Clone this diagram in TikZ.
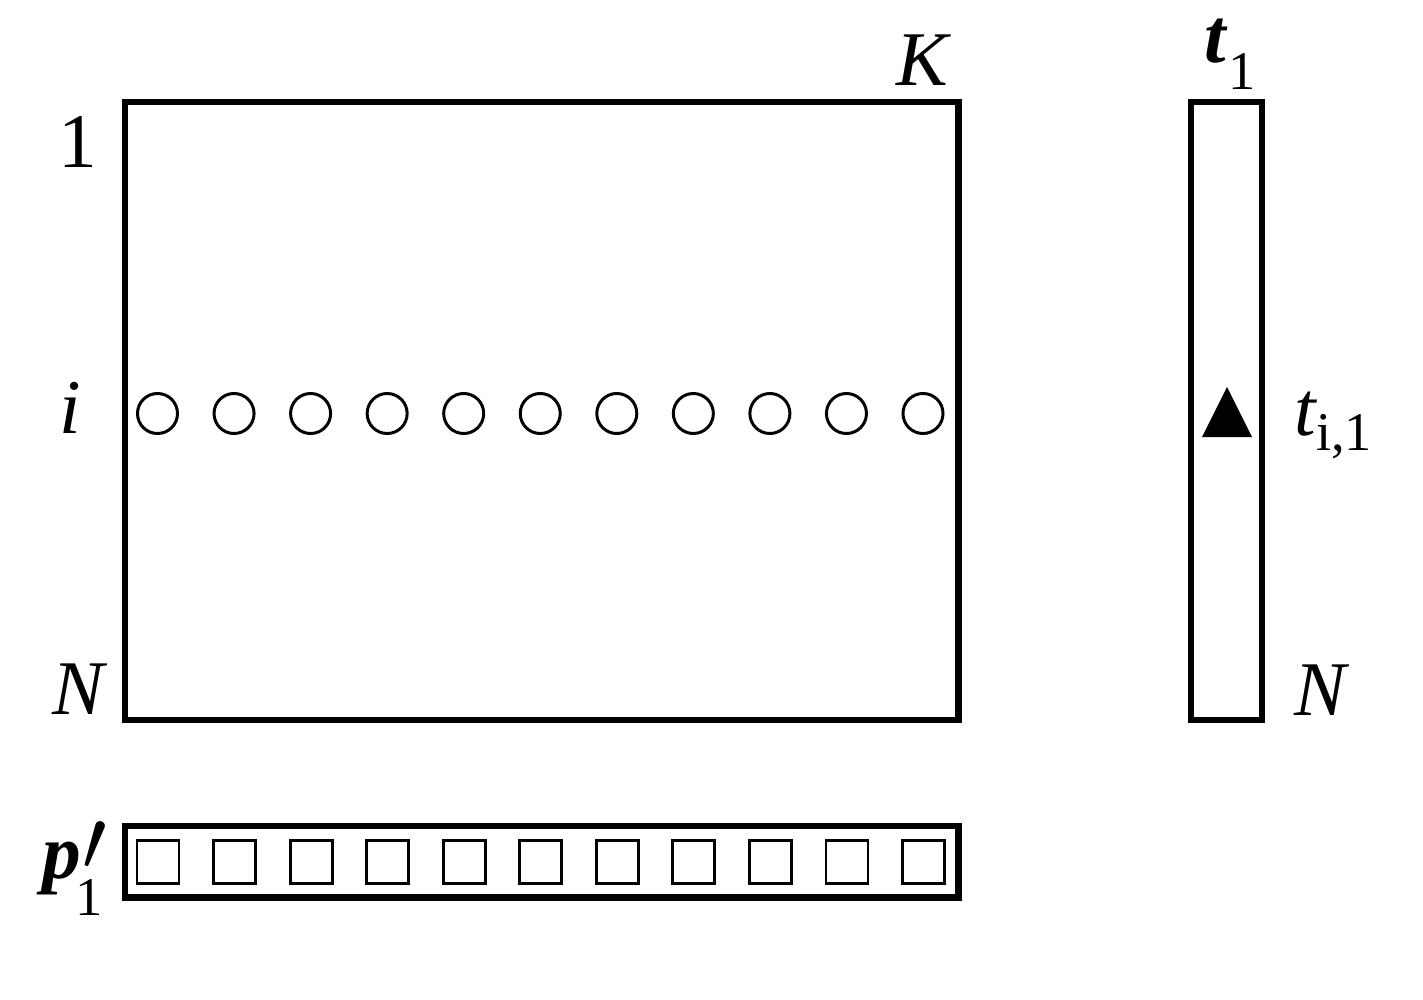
\documentclass[tikz,border=0pt]{standalone}
\usepackage{fontspec}
\setmainfont{Liberation Serif}
\begin{document}
\begin{tikzpicture}[x=0.01cm,y=-0.01cm,
  frame/.style={line width=1.85pt},
  dotring/.style={line width=0.85pt},
  cellbox/.style={line width=0.8pt},
  lbl/.style={inner sep=0pt,outer sep=0pt,anchor=base,font=\fontsize{22}{26}\selectfont},
  sublbl/.style={inner sep=0pt,outer sep=0pt,anchor=base west,font=\fontsize{15.5}{18}\selectfont}]
\useasboundingbox (0,0) rectangle (1423,1000);
% main matrix
\draw[frame] (125,102) rectangle (958.5,720);
% column vector t_1
\draw[frame] (1191,102) rectangle (1262,720);
% bottom vector p'_1
\draw[frame] (125,826) rectangle (958.5,897.5);
% circles and squares
\foreach \k in {0,...,10}{
  \draw[dotring] (157.5+76.55*\k,413.5) circle[radius=0.2cm];
  \draw[cellbox] (137+76.55*\k,840.5) rectangle ++(42,43);
}
% triangle
\fill (1202,437) -- (1252,437) -- (1227,387) -- cycle;
% labels
\node[lbl] (one) at (78,167) {1};
\node[lbl] (ii) at (70,433) {\itshape i};
\node[lbl] (nl) at (78,714) {\itshape N};
\node[lbl] (kk) at (922,86) {\itshape K};
\node[lbl,anchor=base west] (tb) at (1204,62) {\bfseries\itshape t};
\node[sublbl] (tbs) at (1228,90) {1};
\node[lbl,anchor=base west] (ti) at (1294,435) {\itshape t};
\node[sublbl] (tis) at (1316,450) {i,1};
\node[lbl] (nr) at (1320,715) {\itshape N};
\node[lbl,anchor=base west] (pp) at (42,878) {\bfseries\itshape p};
\node[inner sep=0pt,outer sep=0pt,anchor=north west,font=\fontsize{27}{30}\selectfont] (pr) at (83,822) {$\prime$};
\node[sublbl] (pps) at (76,915) {1};
\end{tikzpicture}
\end{document}
